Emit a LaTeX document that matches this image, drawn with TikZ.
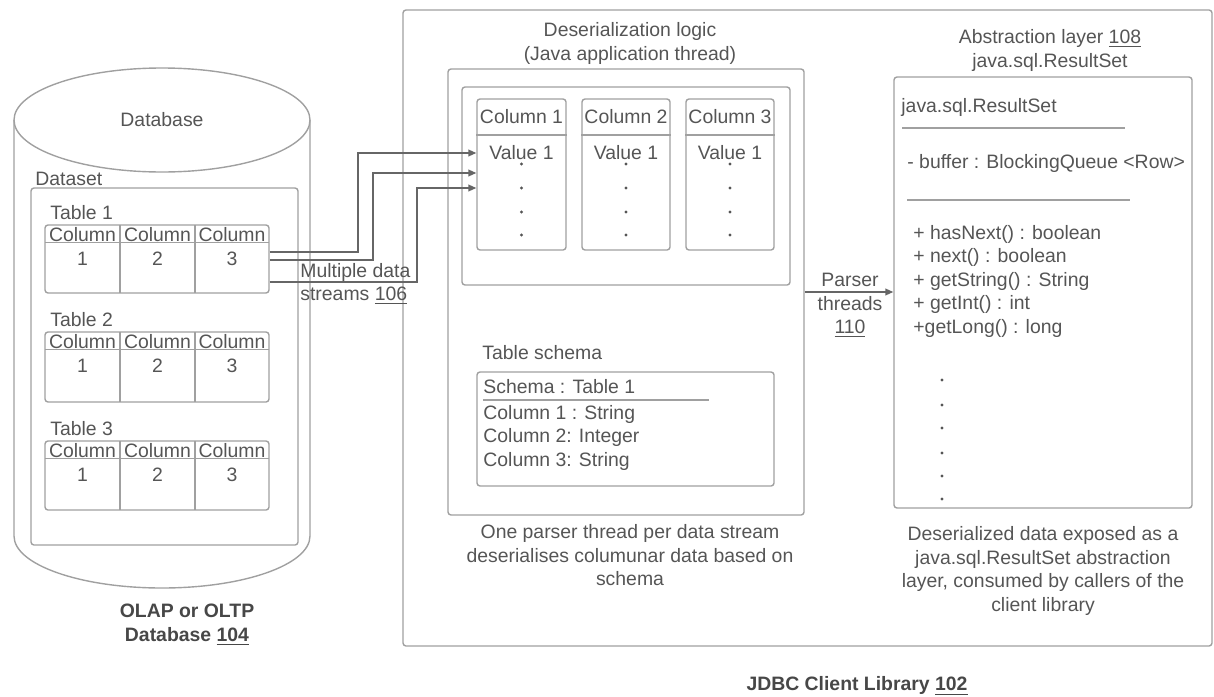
\documentclass[tikz,border=0pt]{standalone}
\usepackage{fontspec}
\setmainfont{Liberation Sans}
\usetikzlibrary{fit,arrows.meta,calc}
\definecolor{linegray}{HTML}{A0A0A0}
\definecolor{txtgray}{HTML}{555555}
\definecolor{arrgray}{HTML}{666666}

\begin{document}
\begin{tikzpicture}[x=0.5pt,y=-0.5pt,
    box/.style={draw=linegray,line width=0.7pt,rounded corners=1.5pt,inner sep=0},
    rule/.style={draw=linegray,line width=0.7pt},
    lbl/.style={text=txtgray,inner sep=0,font=\fontsize{9.7}{11.75}\selectfont},
    boldlbl/.style={lbl,text=black!72,font=\fontsize{9.7}{11.75}\selectfont\bfseries},
    flow/.style={draw=arrgray,line width=0.7pt,-{Triangle[length=4pt,width=3.4pt]}}
  ]
  \useasboundingbox (0,0) rectangle (1214,696);

  % database cylinder
  \draw[rule] (14,120) -- (14,536) arc[start angle=180,end angle=0,x radius=148,y radius=52] -- (310,120);
  \draw[rule] (162,120) ellipse[x radius=148,y radius=52];
  \node[lbl] (db) at (162,120) {Database};
  \node[boldlbl,align=center] (dblbl) at (187,625) {OLAP or OLTP\\Database \underline{104}};

  % dataset and tables
  \node[box,fit={(31,188)(298,545)}] (dataset) {};
  \node[lbl,anchor=west] (datasetlbl) at (35,179) {Dataset};
  \foreach \n/\ty/\by in {1/225/293,2/332/402,3/441/510}{
    \node[box,fit={(45,\ty)(269,\by)}] (t\n) {};
    \node[lbl,anchor=west] (t\n-title) at (50,\ty-12) {Table \n};
    \draw[rule] (45,\ty+17.5) -- (269,\ty+17.5);
    \draw[rule] (120,\ty) -- (120,\by) (195,\ty) -- (195,\by);
    \node[lbl] (t\n-h1) at (82.5,\ty+10) {Column};
    \node[lbl] (t\n-h2) at (157.5,\ty+10) {Column};
    \node[lbl] (t\n-h3) at (232,\ty+10) {Column};
    \node[lbl] (t\n-v1) at (82.5,\ty+34) {1};
    \node[lbl] (t\n-v2) at (157.5,\ty+34) {2};
    \node[lbl] (t\n-v3) at (232,\ty+34) {3};
  }

  % client library
  \node[box,fit={(403,10)(1212,646)}] (jdbc) {};
  \node[boldlbl] (jdbclbl) at (857,686) {JDBC Client Library \underline{102}};

  % deserialization logic
  \node[lbl,align=center] (desertitle) at (630,43.5) {Deserialization logic\\(Java application thread)};
  \node[box,fit={(448,69)(804,515)}] (deser) {};
  \node[box,fit={(462,87)(790,285)}] (cols) {};
  \foreach \n/\xl/\xr in {1/477/566,2/582/670,3/686/774}{
    \node[box,fit={(\xl,99)(\xr,250)}] (c\n) {};
    \draw[rule] (c\n.west |- 0,135) -- (c\n.east |- 0,135);
    \node[lbl] (c\n-head) at (c\n.north |- 0,117) {Column \n};
    \node[lbl] (c\n-val) at (c\n.north |- 0,153) {Value 1};
    \foreach \dy in {164,188,212,235}
      \fill[txtgray] (c\n.north |- 0,\dy) circle[radius=0.8pt];
  }
  \node[lbl,anchor=west] (schemalbl) at (482,353) {Table schema};
  \node[box,fit={(477,372)(774,486)}] (schema) {};
  \node[lbl,anchor=west] (schemahead) at (483,387) {Schema : Table 1};
  \draw[rule] (483,400) -- (709,400);
  \node[lbl,anchor=west,align=left] (schemacols) at (483,437.5) {Column 1 : String\\Column 2: Integer\\Column 3: String};
  \node[lbl,align=center] (deserdesc) at (630,555.5) {One parser thread per data stream\\deserialises columunar data based on\\schema};

  % data streams
  \draw[flow] (t1.east |- 0,252) -| (358,153) -- (c1.west |- 0,153);
  \draw[flow] (t1.east |- 0,260) -| (373,173) -- (c1.west |- 0,173);
  \draw[flow] (t1.east |- 0,282) -| (417,188) -- (c1.west |- 0,188);
  \node[lbl,anchor=west,align=left] (streamlbl) at (300,284) {Multiple data\\streams \underline{106}};

  % abstraction layer
  \node[lbl,align=center] (rstitle) at (1050,50.5) {Abstraction layer \underline{108}\\java.sql.ResultSet};
  \node[box,fit={(894,77)(1192,508)}] (rs) {};
  \node[lbl,anchor=west] (rsname) at (901,107) {java.sql.ResultSet};
  \draw[rule] (902,128) -- (1125,128);
  \node[lbl,anchor=west] (rsbuf) at (907,163) {- buffer : BlockingQueue <Row>};
  \draw[rule] (907,200) -- (1130,200);
  \node[lbl,anchor=west,align=left] (rsmeth) at (913,281) {+ hasNext() : boolean\\+ next() : boolean\\+ getString() : String\\+ getInt() : int\\+getLong() : long};
  \foreach \dy in {380,405,428,453,476,499}
    \fill[txtgray] (942,\dy) circle[radius=0.8pt];
  \node[lbl,align=center] (rsdesc) at (1043,571) {Deserialized data exposed as a\\java.sql.ResultSet abstraction\\layer, consumed by callers of the\\client library};

  % parser threads
  \draw[flow] (deser.east |- 0,292) -- (rs.west |- 0,292);
  \node[lbl,align=center] (parserlbl) at (850,305.7) {Parser\\threads\\\underline{110}};
\end{tikzpicture}
\end{document}
